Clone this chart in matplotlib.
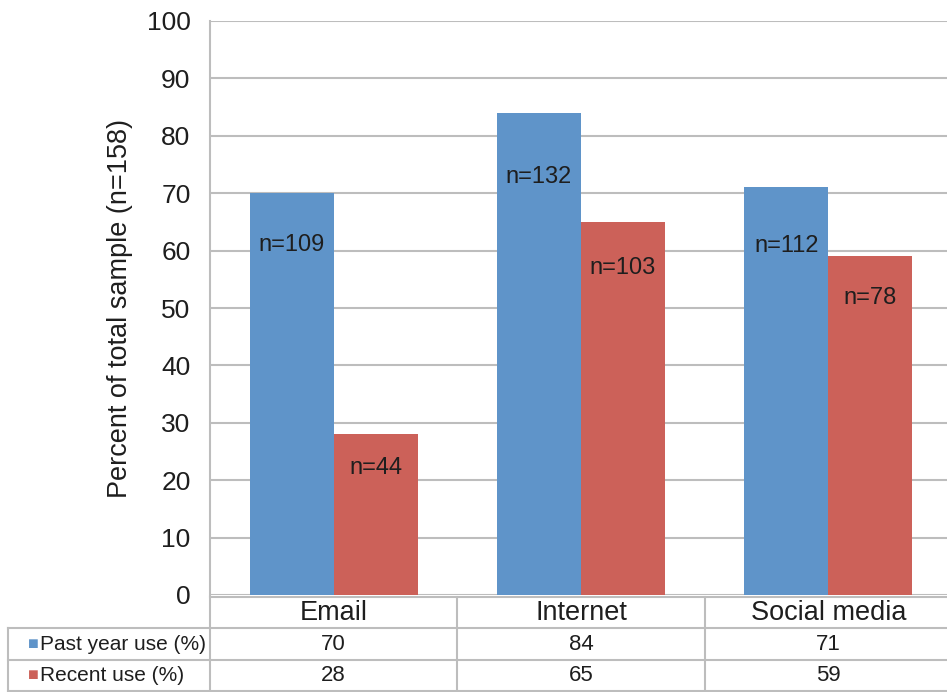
import matplotlib
matplotlib.use("Agg")
import matplotlib.pyplot as plt
import numpy as np

plt.rcParams['font.family'] = ['Liberation Sans', 'DejaVu Sans']

categories = ["Email", "Internet", "Social media"]
series_names = ["Past year use (%)", "Recent use (%)"]
past_year = [70, 84, 71]
recent = [28, 65, 59]
past_n = ["n=109", "n=132", "n=112"]
recent_n = ["n=44", "n=103", "n=78"]
yticks = [0, 10, 20, 30, 40, 50, 60, 70, 80, 90, 100]

BLUE = "#5F94C9"
RED = "#CC6159"
GRID = "#BDBDBD"
TXT = "#1E1E1E"

W, H = 947, 692
fig = plt.figure(figsize=(W / 100, H / 100), dpi=100)
ax = fig.add_axes([210 / W, 1 - 595 / H, (952 - 210) / W, (595 - 21) / H])

x = np.arange(len(categories))
bw = 0.34
ax.bar(x - bw / 2, past_year, bw, color=BLUE, zorder=3)
ax.bar(x + bw / 2, recent, bw, color=RED, zorder=3)

# n labels inside bars (offset below top, in points)
off_blue = [-37, -46, -42]
off_red = [-24, -33, -30]
for i in range(len(categories)):
    ax.annotate(past_n[i], (x[i] - bw / 2, past_year[i]), xytext=(0, off_blue[i]),
                textcoords="offset points", ha="center", va="center",
                fontsize=17, color=TXT, zorder=4)
    ax.annotate(recent_n[i], (x[i] + bw / 2, recent[i]), xytext=(0, off_red[i]),
                textcoords="offset points", ha="center", va="center",
                fontsize=17, color=TXT, zorder=4)

ax.set_xlim(-0.5, len(categories) - 0.5)
ax.set_ylim(0, 100)
ax.set_yticks(yticks)
ax.set_yticklabels([str(t) for t in yticks], fontsize=19, color=TXT)
ax.tick_params(axis="y", length=0, pad=14)
ax.set_xticks([])
ax.grid(axis="y", color=GRID, linewidth=1.5, zorder=0)
for s in ["top", "right", "bottom"]:
    ax.spines[s].set_visible(False)
ax.spines["left"].set_color(GRID)
ax.spines["left"].set_linewidth(1.5)
ax.set_ylabel("Percent of total sample (n=158)", fontsize=19.5, color=TXT, labelpad=10)

# data table below the axes
tr = ax.get_xaxis_transform()
ax_h = 595 - 21
def ya(py):
    return -(py - 595) / ax_h
y_top, y_r1, y_r2, y_bot = ya(597), ya(628), ya(660), ya(691)
px_per_cat = (952 - 210) / len(categories)
x_lab_left = -0.5 - (210 - 8) / px_per_cat
x_right = len(categories) - 0.5
lkw = dict(color=GRID, linewidth=1.5, transform=tr, clip_on=False)

ax.plot([-0.5, x_right], [y_top, y_top], **lkw)
for yy in (y_r1, y_r2, y_bot):
    ax.plot([x_lab_left, x_right], [yy, yy], **lkw)
ax.plot([x_lab_left, x_lab_left], [y_r1, y_bot], **lkw)
for xb in np.arange(len(categories) + 1) - 0.5:
    ax.plot([xb, xb], [y_top, y_bot], **lkw)

for i, c in enumerate(categories):
    ax.text(x[i], (y_top + y_r1) / 2, c, transform=tr, ha="center", va="center",
            fontsize=19.5, color=TXT, clip_on=False)
    ax.text(x[i], (y_r1 + y_r2) / 2, str(past_year[i]), transform=tr, ha="center",
            va="center", fontsize=16, color=TXT, clip_on=False)
    ax.text(x[i], (y_r2 + y_bot) / 2, str(recent[i]), transform=tr, ha="center",
            va="center", fontsize=16, color=TXT, clip_on=False)

sq_x = -0.5 - (210 - 28) / px_per_cat
txt_x = -0.5 - (210 - 40) / px_per_cat
for (y0, y1), name, col in zip([(y_r1, y_r2), (y_r2, y_bot)], series_names, [BLUE, RED]):
    ym = (y0 + y1) / 2
    ax.text(sq_x, ym, "\u25A0", transform=tr, ha="left", va="center",
            fontsize=13, color=col, clip_on=False)
    ax.text(txt_x, ym, name, transform=tr, ha="left", va="center",
            fontsize=15, color=TXT, clip_on=False)

fig.savefig("out.png", dpi=100)
